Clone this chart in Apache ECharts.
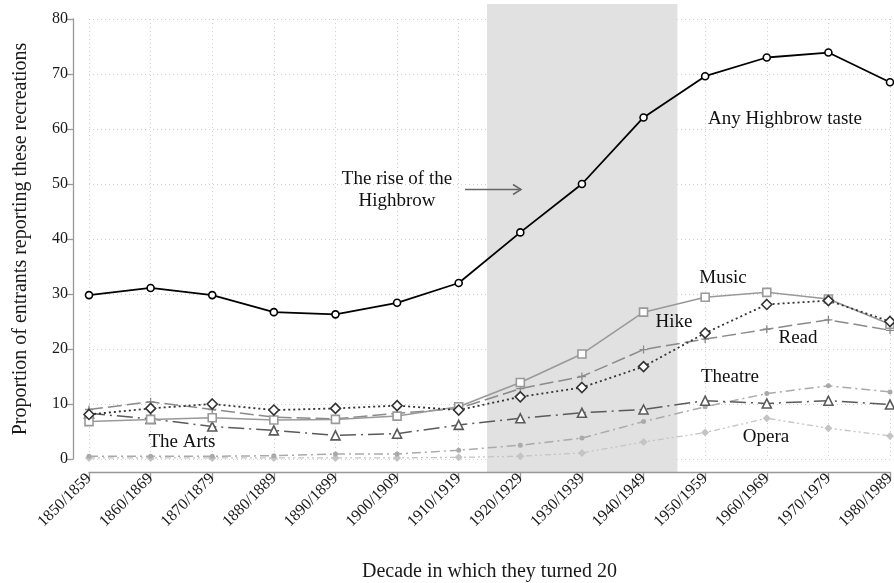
<!DOCTYPE html>
<html><head><meta charset="utf-8">
<script src="https://cdn.jsdelivr.net/npm/echarts@6/dist/echarts.min.js"></script>
<style>html,body{margin:0;padding:0;background:#fff}#c{width:894px;height:583px}</style>
</head><body><div id="c"></div>
<script>
const categories = ["1850/1859","1860/1869","1870/1879","1880/1889","1890/1899","1900/1909","1910/1919","1920/1929","1930/1939","1940/1949","1950/1959","1960/1969","1970/1979","1980/1989"];
const yTicks = [0,10,20,30,40,50,60,70,80];
const anyHighbrow = [29.8,31.1,29.8,26.7,26.3,28.4,32.0,41.2,50.0,62.1,69.6,73.0,73.9,68.5];
const music   = [6.8,7.2,7.5,7.1,7.2,7.8,9.5,13.9,19.1,26.7,29.4,30.3,29.1,24.5];
const hike    = [8.1,9.2,10.0,8.9,9.2,9.7,8.9,11.3,13.0,16.8,22.9,28.1,28.8,25.0];
const read    = [9.0,10.4,9.0,7.6,7.3,8.3,9.2,12.8,15.0,19.9,21.8,23.6,25.3,23.4];
const arts    = [8.3,7.3,5.9,5.2,4.3,4.6,6.2,7.4,8.4,9.0,10.6,10.1,10.6,9.9];
const theatre = [0.5,0.5,0.5,0.6,0.9,0.9,1.6,2.5,3.8,6.8,9.5,11.9,13.3,12.2];
const opera   = [0.2,0.2,0.2,0.2,0.2,0.2,0.3,0.5,1.1,3.1,4.8,7.4,5.6,4.2];
const highbrowSpan = [6.46, 9.55];

const pts = arr => arr.map((v,i)=>[i,v]);
const serif = '"Liberation Serif","DejaVu Serif",serif';
const chart = echarts.init(document.getElementById('c'), null, {renderer:'canvas'});

function lineSeries(name, data, color, type, symbol, size, hollow, width, z){
  return {
    name, type:'line', data: pts(data), z: z||3,
    symbol, symbolSize: size,
    lineStyle:{color, width: width||1.3, type},
    itemStyle:{color: hollow ? '#fff' : color, borderColor: color, borderWidth: hollow?1.6:0},
    emphasis:{disabled:true}, animation:false
  };
}
const plus = 'path://M4.2,0H5.8V4.2H10V5.8H5.8V10H4.2V5.8H0V4.2H4.2Z';
const txt = (x, y, text) => ({type:'text', x, y, z:100,
  style:{text, font:'19px '+serif, fill:'#111', align:'center', verticalAlign:'middle', lineHeight:22}});

const option = {
  animation:false,
  grid:{left:89, right:4, top:19, bottom:124, outerBoundsMode:'none', containLabel:false},
  xAxis:{
    type:'value', min:0, max:categories.length-1, interval:1,
    offset:13,
    axisLine:{show:true, onZero:false, lineStyle:{color:'#999', width:1.3}},
    axisTick:{show:true, length:9, lineStyle:{color:'#999', width:1.3}},
    axisLabel:{rotate:45, fontFamily:serif, fontSize:16, color:'#1a1a1a', margin:4,
      formatter: v => categories[v] || ''},
    splitLine:{show:true, lineStyle:{color:'#cfcfcf', type:[1,3], width:1}},
    name:'Decade in which they turned 20', nameLocation:'middle', nameGap:90,
    nameTextStyle:{fontFamily:serif, fontSize:20, color:'#1a1a1a'}
  },
  yAxis:{
    type:'value', min:0, max:80, interval:10, offset:16,
    axisLine:{show:true, onZero:false, lineStyle:{color:'#999', width:1.3}},
    axisTick:{show:true, length:7, lineStyle:{color:'#999', width:1.3}},
    axisLabel:{fontFamily:serif, fontSize:16, color:'#1a1a1a', margin:5,
      formatter: v => yTicks.includes(v) ? String(v) : ''},
    splitLine:{show:true, lineStyle:{color:'#cfcfcf', type:[1,3], width:1}},
    name:'Proportion of entrants reporting these recreations', nameLocation:'middle', nameGap:42,
    nameTextStyle:{fontFamily:serif, fontSize:20, color:'#1a1a1a'}
  },
  series:[
    lineSeries('Opera', opera, '#c4c4c4', [6,3,2,3,2,3], 'diamond', 8, false, 1.3),
    lineSeries('Theatre', theatre, '#aaaaaa', [9,4,2,4], 'circle', 5, false, 1.5),
    lineSeries('The Arts', arts, '#5a5a5a', [16,5,2,5], 'triangle', 9, true, 1.5),
    lineSeries('Read', read, '#8a8a8a', [14,5], plus, 8, false, 1.5),
    lineSeries('Music', music, '#999999', 'solid', 'rect', 8, true, 1.5),
    lineSeries('Hike', hike, '#333333', [2,3], 'diamond', 10, true, 1.8),
    lineSeries('Any Highbrow taste', anyHighbrow, '#000000', 'solid', 'circle', 7, true, 1.8, 5)
  ]
};
chart.setOption(option);

// shaded band from the axis scales
const p0 = chart.convertToPixel({gridIndex:0}, [highbrowSpan[0], 80]);
const p1 = chart.convertToPixel({gridIndex:0}, [highbrowSpan[1], 0]);
const arrowY = chart.convertToPixel({gridIndex:0}, [0, 49])[1];
chart.setOption({
  graphic:[
    {type:'rect', z:0, zlevel:0, silent:true, shape:{x:p0[0], y:p0[1]-15, width:p1[0]-p0[0], height:(p1[1]+13)-(p0[1]-15)},
      style:{fill:'#e1e1e1'}},
    txt(785, 119, 'Any Highbrow taste'),
    txt(397, 190, 'The rise of the\nHighbrow'),
    txt(723, 278, 'Music'),
    txt(674, 322, 'Hike'),
    txt(798, 338, 'Read'),
    txt(730, 377, 'Theatre'),
    txt(766, 437, 'Opera'),
    txt(182, 442, 'The Arts'),
    {type:'polyline', z:100, shape:{points:[[465,arrowY],[521,arrowY]]}, style:{stroke:'#666', lineWidth:1.5}},
    {type:'polyline', z:100, shape:{points:[[513,arrowY-5],[521,arrowY],[513,arrowY+5]]}, style:{stroke:'#666', lineWidth:1.5, fill:null}}
  ]
});
</script></body></html>
